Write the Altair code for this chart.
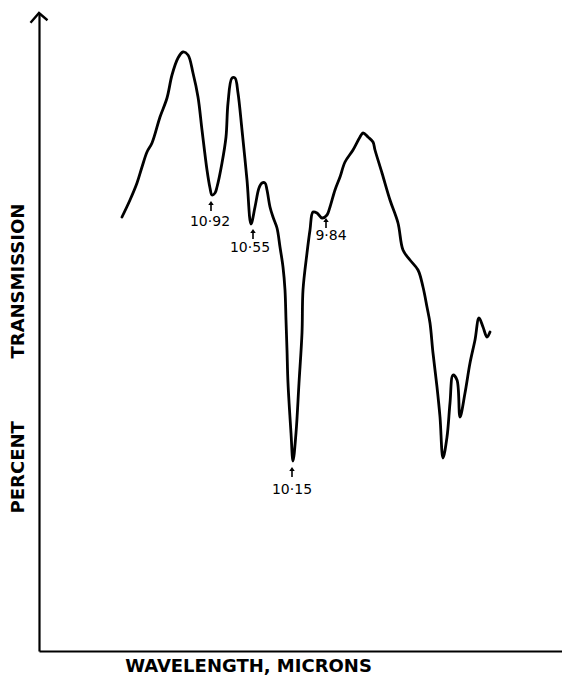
import altair as alt
import pandas as pd

# Trace of the spectrum (chart units: x along the wavelength axis, t = transmission height)
X_POS = [83, 91, 98, 103, 108, 113, 121, 128, 133, 139, 144, 149, 154, 159, 163, 168, 171, 173,
         176, 178, 183, 187, 189, 193, 196, 199, 203, 208, 212, 216, 220, 223, 226, 228, 231, 234,
         238, 241, 244, 246, 247, 248, 249, 252, 254, 257, 260, 263, 264, 268, 271, 274, 278, 283,
         288, 291, 296, 301, 306, 314, 321, 324, 329, 334, 336, 343, 351, 359, 364, 371, 379, 384,
         388, 391, 394, 398, 401, 404, 408, 411, 414, 418, 421, 426, 431, 436, 440, 444, 448, 451]
T_VAL = [434, 451, 468, 484, 499, 508, 534, 553, 576, 593, 599, 596, 578, 554, 521, 481, 463, 456,
         458, 464, 488, 514, 548, 573, 573, 558, 521, 471, 427, 444, 463, 468, 468, 461, 444, 434,
         423, 404, 384, 361, 331, 301, 268, 218, 190, 218, 268, 318, 361, 398, 421, 439, 438, 433,
         436, 444, 461, 474, 489, 501, 514, 518, 514, 509, 501, 478, 451, 428, 401, 391, 381, 364,
         344, 328, 298, 264, 234, 193, 214, 248, 276, 271, 234, 258, 288, 311, 333, 324, 314, 319]

# Band annotations
PEAK_LABELS = ["10·92", "10·55", "10·15", "9·84"]
LABEL_X = [171, 211, 253, 292]
LABEL_Y = [429, 403, 161, 415]
ARROW_X = [172, 214, 253, 287]
ARROW_Y = [445, 417, 179, 428]

X_TITLE = "WAVELENGTH, MICRONS"
Y_TITLE = "PERCENT" + "\u00a0" * 10 + "TRANSMISSION"

curve = pd.DataFrame({"x": X_POS, "t": T_VAL, "i": list(range(len(X_POS)))})
labels = pd.DataFrame({"x": LABEL_X, "t": LABEL_Y, "label": PEAK_LABELS})
arrows = pd.DataFrame({"x": ARROW_X, "t": ARROW_Y})
axis_tip = pd.DataFrame({"x": [0], "t": [638]})

xs = alt.Scale(domain=[0, 523], nice=False, zero=False)
ys = alt.Scale(domain=[0, 638], nice=False, zero=False)

x_axis = alt.Axis(title=X_TITLE, labels=False, ticks=False, grid=False,
                  domainColor="black", domainWidth=2,
                  titleFont="DejaVu Sans", titleFontWeight="bold", titleFontSize=18,
                  titleColor="black", titleX=209, titleY=20,
                  titleBaseline="alphabetic", titleAlign="center")
y_axis = alt.Axis(title=Y_TITLE, labels=False, ticks=False, grid=False,
                  domainColor="black", domainWidth=2.2,
                  titleFont="DejaVu Sans", titleFontWeight="bold", titleFontSize=18,
                  titleColor="black", titleX=-21, titleY=345, titleAngle=270,
                  titleBaseline="middle", titleAlign="center")

X = alt.X("x:Q", scale=xs, axis=x_axis)
Y = alt.Y("t:Q", scale=ys, axis=y_axis)

line = alt.Chart(curve).mark_line(
    color="black", strokeWidth=2.8, strokeJoin="round", strokeCap="round",
    interpolate="catmull-rom"
).encode(x=X, y=Y, order="i:Q")

text = alt.Chart(labels).mark_text(
    font="DejaVu Sans", fontSize=14, color="black", align="center", baseline="middle"
).encode(x=X, y=Y, text="label:N")

arrow = alt.Chart(arrows).mark_point(
    shape="M 0 -1 L 0.55 -0.2 L 0.16 -0.2 L 0.16 1 L -0.16 1 L -0.16 -0.2 L -0.55 -0.2 Z",
    filled=True, size=100, color="black", opacity=1
).encode(x=X, y=Y)

tip = alt.Chart(axis_tip).mark_point(
    shape="M -1 1.15 L 0 0 L 1 0.85", filled=False, size=289,
    stroke="black", strokeWidth=2.4, opacity=1
).encode(x=X, y=Y)

chart = alt.layer(line, text, arrow, tip).properties(
    width=523, height=638,
    padding={"left": 31, "top": 5, "right": 0, "bottom": 24},
    autosize=alt.AutoSizeParams(type="none"),
    background="white",
).configure_view(stroke=None)

chart.save("out.html", embed_options={"renderer": "svg", "actions": False})
